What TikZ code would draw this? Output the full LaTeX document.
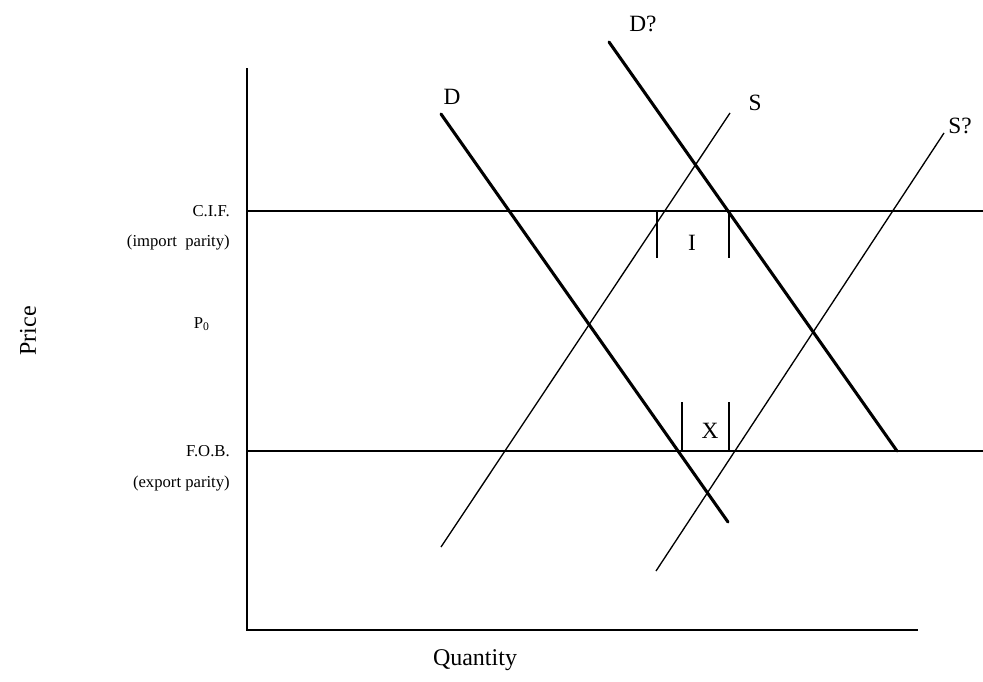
\documentclass[tikz,border=0pt]{standalone}
\usepackage{fontspec}
\setmainfont{Liberation Serif}
\begin{document}
\begin{tikzpicture}[x=0.75pt,y=-0.75pt,
  thinline/.style={line width=1pt,black},
  thickline/.style={line width=2.3pt,black,line cap=round},
  curvelabel/.style={font=\fontsize{17.5}{19}\selectfont,inner sep=0pt},
  sidelabel/.style={font=\fontsize{12.5}{14}\selectfont,inner sep=0pt,anchor=east},
  axislabel/.style={font=\fontsize{18}{20}\selectfont,inner sep=0pt}]
\useasboundingbox (0,0) rectangle (983,682);
% axes
\coordinate (otop) at (247,68);
\coordinate (orig) at (247,630);
\coordinate (xend) at (918,630);
\draw[thinline] (otop) -- (orig) -- (xend);
% price levels
\coordinate (cifL) at (247,211);
\coordinate (cifR) at (983,211);
\coordinate (fobL) at (247,451);
\coordinate (fobR) at (983,451);
\draw[thinline] (cifL) -- (cifR);
\draw[thinline] (fobL) -- (fobR);
% curves
\coordinate (Dtop) at (441,114);
\coordinate (Dbot) at (728,522);
\coordinate (D2top) at (609,42);
\coordinate (D2bot) at (897,451);
\coordinate (Stop) at (730,113);
\coordinate (Sbot) at (441,547);
\coordinate (S2top) at (944,133);
\coordinate (S2bot) at (656,571);
\draw[thickline] (Dtop) -- (Dbot);
\draw[thickline] (D2top) -- (D2bot);
\draw[thinline] (Sbot) -- (Stop);
\draw[thinline] (S2bot) -- (S2top);
% import / export brackets
\coordinate (iLa) at (657,211); \coordinate (iLb) at (657,258);
\coordinate (iRa) at (729,211); \coordinate (iRb) at (729,258);
\coordinate (xLa) at (682,402); \coordinate (xLb) at (682,451);
\coordinate (xRa) at (729,402); \coordinate (xRb) at (729,451);
\draw[thinline] (iLa) -- (iLb);
\draw[thinline] (iRa) -- (iRb);
\draw[thinline] (xLa) -- (xLb);
\draw[thinline] (xRa) -- (xRb);
% labels
\node[curvelabel] (lD) at (452,97) {D};
\node[curvelabel] (lD2) at (643,24) {D?};
\node[curvelabel] (lS) at (755,103) {S};
\node[curvelabel] (lS2) at (960,126) {S?};
\node[curvelabel] (lI) at (692,243) {I};
\node[curvelabel] (lX) at (710,431) {X};
\node[sidelabel] (lcif) at (230,211) {C.I.F.};
\node[sidelabel] (limp) at (230,243) {(import\ \ parity)};
\node[sidelabel] (lp0) at (210,324) {P\textsubscript{0}};
\node[sidelabel] (lfob) at (230,451) {F.O.B.};
\node[sidelabel] (lexp) at (230,484) {(export parity)};
\node[axislabel,rotate=90] (lprice) at (28,331) {Price};
\node[axislabel] (lqty) at (475,660) {Quantity};
\end{tikzpicture}
\end{document}
